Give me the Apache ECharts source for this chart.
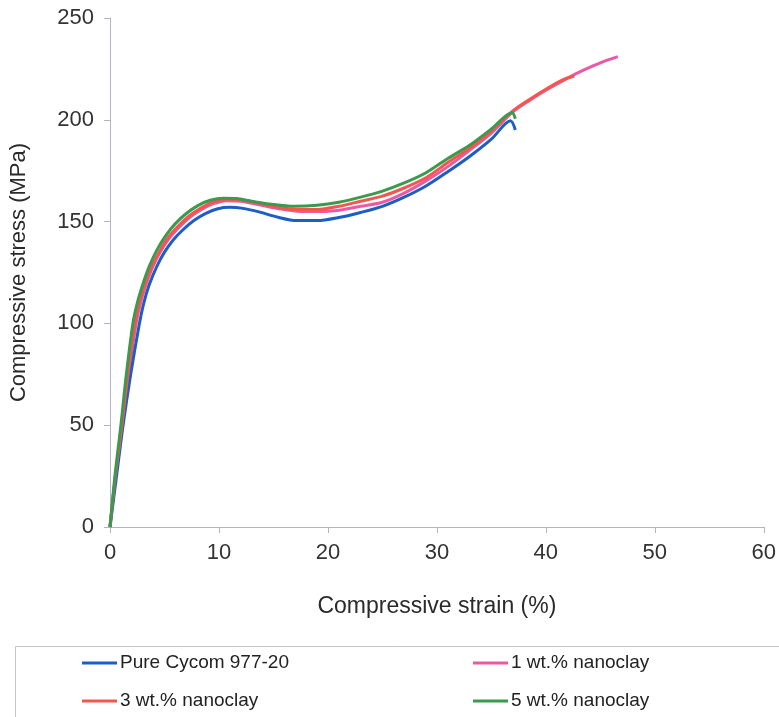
<!DOCTYPE html>
<html>
<head>
<meta charset="utf-8">
<script src="https://cdn.jsdelivr.net/npm/echarts@6/dist/echarts.min.js"></script>
<style>
  html, body { margin: 0; padding: 0; background: #fff; }
  #chart { width: 779px; height: 717px; }
</style>
</head>
<body>
<div id="chart"></div>
<script>
// Compressive stress-strain curves: [strain %, stress MPa]
const seriesNames = ['Pure Cycom 977-20', '1 wt.% nanoclay', '3 wt.% nanoclay', '5 wt.% nanoclay'];

const pureCycom = [
  [0, 0], [0.6, 25], [1.2, 50], [1.9, 75], [2.7, 100], [3.1, 110], [3.6, 119],
  [4.3, 128], [5.0, 135], [5.8, 141], [6.7, 146], [7.7, 150.5], [8.8, 154],
  [9.9, 156.3], [11, 157], [12.2, 156.5], [13.5, 155], [15.5, 152], [17.1, 150.5],
  [19, 150.5], [21, 152], [23, 154.5], [25, 157.5], [27, 162], [29, 167.5],
  [31, 174.5], [33, 182], [35, 190.5], [36.75, 199.5], [37.2, 195]
];

const nanoclay1 = [
  [0, 0], [0.5, 25], [1.1, 50], [1.7, 75], [2.4, 100], [2.8, 110], [3.3, 119],
  [3.9, 127.5], [4.6, 135], [5.4, 141.5], [6.3, 147], [7.3, 152], [8.4, 156],
  [9.5, 158.8], [10.7, 160.3], [12, 160], [13.5, 158.5], [15.5, 156.3],
  [17.5, 155], [19.5, 155], [21.5, 156], [23, 157.5], [25, 159.5], [27, 164],
  [29, 170], [31, 177], [33, 185], [35, 193.5], [37, 204], [38.5, 209.5],
  [40, 214.5], [42, 220.5], [43.5, 224.5], [45, 228], [46.6, 231]
];

const nanoclay3 = [
  [0, 0], [0.5, 25], [1.1, 50], [1.65, 75], [2.3, 100], [2.7, 110], [3.2, 119],
  [3.8, 127.5], [4.5, 135], [5.3, 142], [6.2, 147.5], [7.2, 152.5], [8.3, 156.5],
  [9.4, 159.5], [10.6, 161], [11.9, 160.8], [13.4, 159.3], [15.3, 157.3],
  [17.1, 156], [19, 156], [21, 157.5], [23, 160], [25, 162.5], [27, 166.5],
  [29, 171.5], [31, 179], [33, 186], [35, 194.5], [37, 204.5], [38.5, 210],
  [40, 215], [41.5, 219.5], [42.6, 221.5]
];

const nanoclay5 = [
  [0, 0], [0.45, 25], [1.0, 50], [1.5, 75], [2.1, 100], [2.5, 110], [3.0, 119],
  [3.6, 128], [4.3, 136], [5.1, 143], [6.0, 149], [7.0, 154], [8.1, 158],
  [9.2, 160.5], [10.4, 161.5], [11.6, 161.3], [13, 160], [14.8, 158.5],
  [16.9, 157.5], [19, 158], [21, 159.5], [23, 162], [25, 165], [27, 169],
  [29, 174], [31, 181], [33, 187.5], [35, 195.5], [36.9, 203.5], [37.2, 200.5]
];

const xTicks = { min: 0, max: 60, interval: 10 };
const yTicks = { min: 0, max: 250, interval: 50 };

const colors = {
  'Pure Cycom 977-20': '#1c5ec4',
  '1 wt.% nanoclay': '#ea5aa4',
  '3 wt.% nanoclay': '#f2564e',
  '5 wt.% nanoclay': '#3b9a4e'
};

const font = 'Liberation Sans, Arial, sans-serif';

function lineSeries(name, data, z) {
  return {
    name: name,
    type: 'line',
    data: data,
    smooth: 0.3,
    showSymbol: false,
    z: z,
    lineStyle: { width: 3, color: colors[name] },
    itemStyle: { color: colors[name] }
  };
}

// one legend block per entry, laid out as a 2x2 table
function legendEntry(name, left, top) {
  return {
    orient: 'horizontal',
    left: left,
    top: top,
    padding: 0,
    itemWidth: 35,
    itemHeight: 3,
    itemGap: 0,
    icon: 'rect',
    data: [name],
    textStyle: { fontFamily: font, fontSize: 19, color: '#222', lineHeight: 20, padding: [0, 0, 0, -2] }
  };
}

const chart = echarts.init(document.getElementById('chart'), null, { renderer: 'canvas' });

chart.setOption({
  animation: false,
  backgroundColor: '#ffffff',
  grid: { left: 110, right: 13, top: 18, bottom: 190, containLabel: false },
  xAxis: {
    type: 'value',
    min: xTicks.min, max: xTicks.max, interval: xTicks.interval,
    name: 'Compressive strain (%)',
    nameLocation: 'middle',
    nameGap: 68,
    nameTextStyle: { fontFamily: font, fontSize: 23, color: '#2a2a2a' },
    axisLine: { show: true, lineStyle: { color: '#b4b4c0', width: 1 } },
    axisTick: { show: true, length: 6, lineStyle: { color: '#b4b4c0' } },
    axisLabel: { fontFamily: font, fontSize: 22, color: '#333', margin: 15 },
    splitLine: { show: false }
  },
  yAxis: {
    type: 'value',
    min: yTicks.min, max: yTicks.max, interval: yTicks.interval,
    name: 'Compressive stress (MPa)',
    nameLocation: 'middle',
    nameGap: 80,
    nameTextStyle: { fontFamily: font, fontSize: 22, color: '#2a2a2a' },
    axisLine: { show: true, lineStyle: { color: '#b4b4c0', width: 1 } },
    axisTick: { show: true, length: 6, lineStyle: { color: '#b4b4c0' } },
    axisLabel: { fontFamily: font, fontSize: 22, color: '#333', margin: 16 },
    splitLine: { show: false }
  },
  legend: [
    legendEntry(seriesNames[0], 82, 653),
    legendEntry(seriesNames[2], 82, 691),
    legendEntry(seriesNames[1], 473, 653),
    legendEntry(seriesNames[3], 473, 691)
  ],
  graphic: [{
    type: 'rect',
    shape: { x: 15.5, y: 646.5, width: 800, height: 100 },
    style: { fill: 'none', stroke: '#c4c4cc', lineWidth: 1 },
    silent: true
  }],
  series: [
    lineSeries(seriesNames[1], nanoclay1, 2),
    lineSeries(seriesNames[0], pureCycom, 3),
    lineSeries(seriesNames[2], nanoclay3, 4),
    lineSeries(seriesNames[3], nanoclay5, 5)
  ]
});
</script>
</body>
</html>
